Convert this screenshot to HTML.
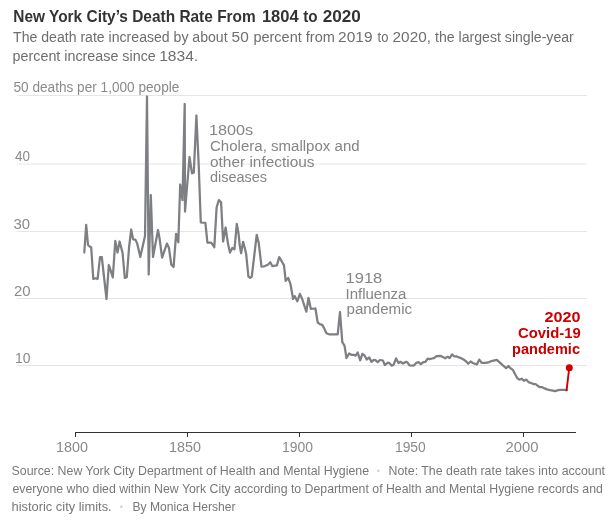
<!DOCTYPE html>
<html><head><meta charset="utf-8"><style>
html,body{margin:0;padding:0;background:#fff;}
body{width:615px;height:526px;overflow:hidden;position:relative;}
svg{position:absolute;left:0;top:0;will-change:transform;}
text{font-family:"Liberation Sans",Arial,sans-serif;}
.t{font-size:15.9px;font-weight:bold;fill:#333;}
.s{font-size:14.7px;fill:#6e6e6e;}
.ax{font-size:14px;fill:#8a8a8a;}
.an{font-size:14.9px;fill:#858585;}
.red{font-size:15.3px;font-weight:bold;fill:#cc0000;}
.f{font-size:12.6px;fill:#787878;}
.dot{font-size:22px;fill:#d2d2d2;}
.g{stroke:#e6e6e6;stroke-width:1;}
.tk{stroke:#333;stroke-width:1;}
</style></head><body>
<svg width="615" height="526" viewBox="0 0 615 526">
<line x1="17" x2="587" y1="95.5" y2="95.5" class="g"/>
<line x1="17" x2="587" y1="164" y2="164" class="g"/>
<line x1="17" x2="587" y1="231.5" y2="231.5" class="g"/>
<line x1="17" x2="587" y1="298.5" y2="298.5" class="g"/>
<line x1="17" x2="587" y1="365.5" y2="365.5" class="g"/>
<line x1="75" x2="576" y1="432.5" y2="432.5" class="tk"/>
<line x1="75.5" x2="75.5" y1="432" y2="437" class="tk"/>
<line x1="187.5" x2="187.5" y1="432" y2="437" class="tk"/>
<line x1="299.5" x2="299.5" y1="432" y2="437" class="tk"/>
<line x1="411.5" x2="411.5" y1="432" y2="437" class="tk"/>
<line x1="523.5" x2="523.5" y1="432" y2="437" class="tk"/>
<text x="13.30" y="21.6" class="t" textLength="242.41" lengthAdjust="spacingAndGlyphs">New York City’s Death Rate From</text>
<text x="261.90" y="21.6" class="t" textLength="36.76" lengthAdjust="spacingAndGlyphs">1804</text>
<text x="303.20" y="21.6" class="t" textLength="14.40" lengthAdjust="spacingAndGlyphs">to</text>
<text x="322.70" y="21.6" class="t" textLength="38.16" lengthAdjust="spacingAndGlyphs">2020</text>
<text x="13.10" y="41.8" class="s" textLength="214.53" lengthAdjust="spacingAndGlyphs">The death rate increased by about</text>
<text x="231.60" y="41.8" class="s" textLength="17.14" lengthAdjust="spacingAndGlyphs">50</text>
<text x="253.40" y="41.8" class="s" textLength="81.45" lengthAdjust="spacingAndGlyphs">percent from</text>
<text x="338.10" y="41.8" class="s" textLength="34.49" lengthAdjust="spacingAndGlyphs">2019</text>
<text x="377.60" y="41.8" class="s" textLength="10.85" lengthAdjust="spacingAndGlyphs">to</text>
<text x="392.60" y="41.8" class="s" textLength="38.37" lengthAdjust="spacingAndGlyphs">2020,</text>
<text x="435.10" y="41.8" class="s" textLength="138.72" lengthAdjust="spacingAndGlyphs">the largest single-year</text>
<text x="12.60" y="60.7" class="s" textLength="143.17" lengthAdjust="spacingAndGlyphs">percent increase since</text>
<text x="159.20" y="60.7" class="s" textLength="38.97" lengthAdjust="spacingAndGlyphs">1834.</text>
<text x="13.50" y="91.8" class="ax" textLength="165.88" lengthAdjust="spacingAndGlyphs">50 deaths per 1,000 people</text>
<text x="15.00" y="160.6" class="ax" textLength="14.98" lengthAdjust="spacingAndGlyphs">40</text>
<text x="13.50" y="228.8" class="ax" textLength="16.58" lengthAdjust="spacingAndGlyphs">30</text>
<text x="14.00" y="295.6" class="ax" textLength="16.58" lengthAdjust="spacingAndGlyphs">20</text>
<text x="15.00" y="362.6" class="ax" textLength="15.58" lengthAdjust="spacingAndGlyphs">10</text>
<text x="56.00" y="451.6" class="ax" textLength="31.96" lengthAdjust="spacingAndGlyphs">1800</text>
<text x="169.00" y="451.6" class="ax" textLength="31.96" lengthAdjust="spacingAndGlyphs">1850</text>
<text x="282.00" y="451.6" class="ax" textLength="30.96" lengthAdjust="spacingAndGlyphs">1900</text>
<text x="395.00" y="451.6" class="ax" textLength="30.76" lengthAdjust="spacingAndGlyphs">1950</text>
<text x="505.50" y="451.6" class="ax" textLength="32.96" lengthAdjust="spacingAndGlyphs">2000</text>
<text x="209.00" y="134.8" class="an" textLength="44.17" lengthAdjust="spacingAndGlyphs">1800s</text>
<text x="210.00" y="150.7" class="an" textLength="149.65" lengthAdjust="spacingAndGlyphs">Cholera, smallpox and</text>
<text x="210.00" y="166.6" class="an" textLength="104.57" lengthAdjust="spacingAndGlyphs">other infectious</text>
<text x="210.00" y="182.1" class="an" textLength="57.04" lengthAdjust="spacingAndGlyphs">diseases</text>
<text x="345.50" y="282.8" class="an" textLength="36.81" lengthAdjust="spacingAndGlyphs">1918</text>
<text x="345.50" y="298.8" class="an" textLength="60.83" lengthAdjust="spacingAndGlyphs">Influenza</text>
<text x="346.50" y="314.1" class="an" textLength="65.60" lengthAdjust="spacingAndGlyphs">pandemic</text>
<text x="544.50" y="321.7" class="red" textLength="36.02" lengthAdjust="spacingAndGlyphs">2020</text>
<text x="518.00" y="337.9" class="red" textLength="62.78" lengthAdjust="spacingAndGlyphs">Covid-19</text>
<text x="512.00" y="353.7" class="red" textLength="67.99" lengthAdjust="spacingAndGlyphs">pandemic</text>
<text x="11.50" y="475.2" class="f" textLength="357.62" lengthAdjust="spacingAndGlyphs">Source: New York City Department of Health and Mental Hygiene</text>
<text x="388.50" y="475.2" class="f" textLength="216.51" lengthAdjust="spacingAndGlyphs">Note: The death rate takes into account</text>
<text x="12.50" y="493.4" class="f" textLength="590.34" lengthAdjust="spacingAndGlyphs">everyone who died within New York City according to Department of Health and Mental Hygiene records and</text>
<text x="11.50" y="510.9" class="f" textLength="100.17" lengthAdjust="spacingAndGlyphs">historic city limits.</text>
<text x="132.50" y="510.9" class="f" textLength="103.09" lengthAdjust="spacingAndGlyphs">By Monica Hersher</text>
<text x="378.4" y="476.9" class="dot" text-anchor="middle">·</text>
<text x="121.4" y="513.0" class="dot" text-anchor="middle">·</text>
<path d="M84.3,252.5 L86.2,224.8 L88.0,245.0 L89.7,246.5 L91.2,247.5 L93.3,279.0 L95.5,278.3 L97.6,279.0 L100.0,257.0 L101.8,257.0 L106.5,299.0 L108.8,265.0 L110.7,270.7 L112.8,277.5 L115.3,241.0 L117.5,252.5 L119.6,241.5 L122.6,253.0 L124.8,278.0 L126.8,277.2 L129.1,247.0 L131.2,229.5 L133.1,239.3 L135.3,239.6 L137.1,243.2 L140.3,256.9 L145.0,236.0 L147.0,96.5 L148.7,274.5 L150.8,195.0 L153.0,257.0 L158.0,230.0 L159.5,238.0 L162.1,257.6 L166.9,243.6 L168.9,247.7 L171.3,264.6 L173.6,267.0 L176.1,233.9 L178.3,242.3 L180.2,184.5 L182.5,200.2 L184.7,104.0 L185.0,211.6 L189.5,157.0 L192.0,173.3 L193.8,172.6 L196.4,115.5 L198.7,165.0 L200.8,222.5 L205.4,222.9 L207.4,242.7 L211.2,242.7 L214.3,247.2 L216.6,207.5 L218.8,200.1 L221.1,202.4 L223.1,241.5 L225.6,227.5 L227.1,237.8 L228.3,245.2 L230.0,252.6 L232.3,248.0 L234.5,249.2 L236.8,223.9 L238.5,233.2 L239.7,245.2 L241.1,253.2 L243.1,241.8 L244.8,248.0 L246.2,254.3 L248.4,276.5 L250.1,277.8 L251.8,276.5 L256.7,234.8 L258.7,242.8 L261.5,266.7 L263.8,266.5 L267.8,264.7 L270.3,262.2 L272.4,266.2 L276.9,265.4 L279.2,257.1 L281.5,261.0 L284.0,265.4 L285.7,280.8 L288.2,277.9 L290.5,284.2 L293.1,299.0 L294.8,296.2 L297.3,301.3 L299.9,293.9 L302.2,299.0 L306.3,311.7 L308.5,298.0 L310.8,308.8 L315.4,308.5 L317.7,322.5 L319.9,324.2 L322.2,324.8 L323.9,327.6 L326.4,333.3 L329.1,334.3 L337.7,334.3 L340.0,312.0 L342.3,342.2 L344.5,345.6 L346.5,358.0 L349.1,353.5 L351.4,354.8 L353.7,354.8 L355.6,355.7 L357.7,352.5 L360.2,360.3 L362.4,353.8 L364.7,355.7 L366.7,359.6 L369.3,357.4 L371.5,361.9 L373.8,359.8 L375.4,360.1 L377.7,362.2 L379.9,360.0 L382.9,360.5 L384.8,365.0 L387.8,362.6 L389.4,363.1 L391.7,365.7 L393.6,364.8 L396.1,358.4 L398.5,363.0 L400.4,361.8 L403.0,363.5 L406.0,361.8 L407.6,362.6 L409.5,365.4 L413.8,365.6 L416.4,362.8 L418.5,362.2 L420.9,364.2 L423.3,362.2 L425.2,362.0 L427.7,358.7 L429.6,359.2 L432.1,358.5 L434.0,358.1 L436.5,356.1 L440.9,355.9 L442.8,356.9 L445.2,358.3 L447.7,356.6 L449.6,358.1 L452.1,354.4 L454.0,356.3 L456.5,356.3 L458.9,357.4 L461.3,358.3 L463.8,359.7 L466.2,361.5 L468.2,363.6 L470.6,361.5 L472.9,363.0 L476.8,364.5 L479.3,359.6 L481.7,362.9 L486.1,362.9 L489.0,362.1 L492.4,360.8 L496.8,359.8 L499.3,362.1 L503.2,365.7 L506.1,368.2 L508.5,366.0 L510.0,367.9 L512.9,369.9 L514.9,373.8 L517.3,378.2 L519.3,379.6 L521.7,378.7 L524.1,380.8 L526.4,379.6 L528.5,382.1 L531.0,383.0 L533.4,384.0 L535.6,384.0 L537.3,385.5 L539.8,387.2 L542.2,387.2 L544.6,388.4 L547.1,389.4 L550.0,390.2 L552.9,390.6 L555.4,391.1 L557.8,390.2 L560.7,389.9 L564.1,389.9 L566.6,390.2" fill="none" stroke="#7e7f83" stroke-width="2.25" stroke-linejoin="round" stroke-linecap="round"/>
<path d="M566.6,390.2 L569.1,369" fill="none" stroke="#cc0000" stroke-width="1.9" stroke-linecap="round"/>
<circle cx="569.3" cy="367.7" r="3.5" fill="#cc0000"/>
</svg>
</body></html>
